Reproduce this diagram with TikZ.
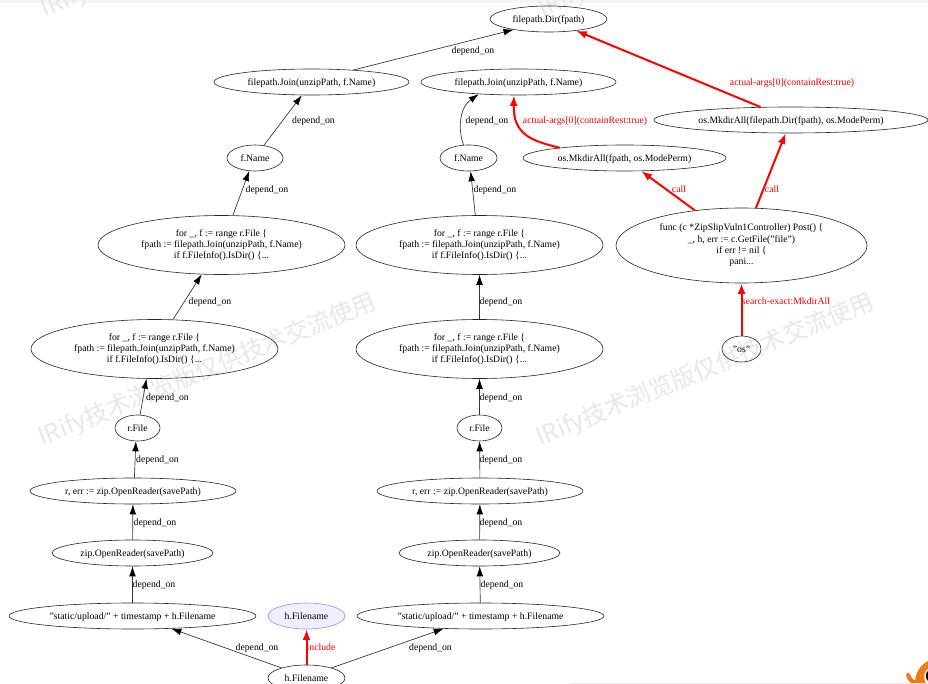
\documentclass[tikz,border=0pt]{standalone}
\usepackage{fontspec}
\setmainfont{Liberation Serif}
\newfontfamily\cjk{Noto Sans CJK SC}
\usepackage{xcolor}
\usepackage{tikz}
\usetikzlibrary{shapes.geometric,arrows.meta}

\definecolor{markgrey}{HTML}{E8E8E8}
\definecolor{hlfill}{HTML}{F0EEFF}
\definecolor{hlline}{HTML}{9A8CFF}
\definecolor{fishorange}{HTML}{F07A13}

\newcommand{\lineup}{\rule[-1.6pt]{0pt}{7.9pt}}

\tikzset{
  gnode/.style={draw=black!85, ellipse, line width=0.45pt, inner sep=0pt, align=center, execute at begin node={\lineup}},
  dep/.style={draw=black!80, line width=0.5pt, -{Latex[length=7.5pt,width=5pt,black]}},
  hit/.style={draw=red, line width=1.5pt, -{Latex[length=8pt,width=6pt]}},
  deplabel/.style={inner sep=0pt, execute at begin node={\lineup}},
  hitlabel/.style={inner sep=0pt, text=red, execute at begin node={\lineup}},
  marktext/.style={text=markgrey, rotate=22.3, inner sep=0pt, font=\cjk\fontsize{18.1}{20}\selectfont}
}

\begin{document}
\begin{tikzpicture}[x=0.75pt,y=-0.75pt,font=\fontsize{7.3}{8.5}\selectfont]
  \clip (0,0) rectangle (928,684);
  \fill[white] (0,0) rectangle (928,684);
  % page edges
  \fill[black!4] (0,0) rectangle (928,3);
  % watermark
  \node[marktext] (markA) at (207.5,370) {IRify技术浏览版仅供技术交流使用};
  \node[marktext] (markB) at (705.5,370) {IRify技术浏览版仅供技术交流使用};
  \node[marktext] (markC) at (210,-59) {IRify技术浏览版仅供技术交流使用};
  \node[marktext] (markD) at (708,-59) {IRify技术浏览版仅供技术交流使用};
  % mascot
  \fill[fishorange] (906,675) .. controls (907,672) and (909,672) .. (910,674)
    .. controls (911,678) and (913,680) .. (916,681) -- (916,684) -- (912,684)
    .. controls (909,682) and (907,679) .. (906,675) -- cycle;
  \fill[fishorange] (915,684) .. controls (915,674) and (919,666) .. (928,661) -- (928,684) -- cycle;
  \fill[white] (928,669) .. controls (924,671) and (923,678) .. (926,684) -- (928,684) -- cycle;
  \fill[black] (928,671) .. controls (925,673) and (925,678) .. (928,681) -- cycle;
  \fill[black!8] (570,682.5) rectangle (928,684);

  % left column
  \node[gnode, minimum width=117pt*0.75, minimum height=26pt*0.75] (dir) at (548.5,19) {filepath.Dir(fpath)};
  \node[gnode, minimum width=195pt*0.75, minimum height=26pt*0.75] (joinA) at (311.5,82) {filepath.Join(unzipPath, f.Name)};
  \node[gnode, minimum width=56pt*0.75, minimum height=26pt*0.75] (nameA) at (255,158) {f.Name};
  \node[gnode, minimum width=247pt*0.75, minimum height=59pt*0.75] (forA) at (221.5,245) {for \_, f := range r.File \{\\fpath := filepath.Join(unzipPath, f.Name)\\if f.FileInfo().IsDir() \{...};
  \node[gnode, minimum width=247pt*0.75, minimum height=59pt*0.75] (forB) at (154.5,349) {for \_, f := range r.File \{\\fpath := filepath.Join(unzipPath, f.Name)\\if f.FileInfo().IsDir() \{...};
  \node[gnode, minimum width=45pt*0.75, minimum height=26pt*0.75] (fileA) at (137.5,428) {r.File};
  \node[gnode, minimum width=206pt*0.75, minimum height=26pt*0.75] (readA) at (133,491) {r, err := zip.OpenReader(savePath)};
  \node[gnode, minimum width=161pt*0.75, minimum height=26pt*0.75] (zipA) at (132.5,553) {zip.OpenReader(savePath)};
  \node[gnode, minimum width=247pt*0.75, minimum height=26pt*0.75] (saveA) at (132.5,616) {"static/upload/" + timestamp + h.Filename};
  \node[gnode, draw=hlline, fill=hlfill, minimum width=77pt*0.75, minimum height=26pt*0.75] (headTop) at (306.5,616) {h.Filename};
  \node[gnode, minimum width=77pt*0.75, minimum height=26pt*0.75] (head) at (306.5,678) {h.Filename};

  % right column
  \node[gnode, minimum width=195pt*0.75, minimum height=26pt*0.75] (joinB) at (518.5,82) {filepath.Join(unzipPath, f.Name)};
  \node[gnode, minimum width=57pt*0.75, minimum height=26pt*0.75] (nameB) at (468.5,158) {f.Name};
  \node[gnode, minimum width=247pt*0.75, minimum height=59pt*0.75] (forC) at (479.5,245) {for \_, f := range r.File \{\\fpath := filepath.Join(unzipPath, f.Name)\\if f.FileInfo().IsDir() \{...};
  \node[gnode, minimum width=247pt*0.75, minimum height=59pt*0.75] (forD) at (479.5,349) {for \_, f := range r.File \{\\fpath := filepath.Join(unzipPath, f.Name)\\if f.FileInfo().IsDir() \{...};
  \node[gnode, minimum width=45pt*0.75, minimum height=26pt*0.75] (fileB) at (479.5,428) {r.File};
  \node[gnode, minimum width=206pt*0.75, minimum height=26pt*0.75] (readB) at (480,491) {r, err := zip.OpenReader(savePath)};
  \node[gnode, minimum width=161pt*0.75, minimum height=26pt*0.75] (zipB) at (479.5,553) {zip.OpenReader(savePath)};
  \node[gnode, minimum width=247pt*0.75, minimum height=26pt*0.75] (saveB) at (480.5,616) {"static/upload/" + timestamp + h.Filename};

  % sink side
  \node[gnode, minimum width=203pt*0.75, minimum height=26pt*0.75] (mkdirA) at (624.5,158) {os.MkdirAll(fpath, os.ModePerm)};
  \node[gnode, minimum width=274pt*0.75, minimum height=26pt*0.75] (mkdirB) at (791,120) {os.MkdirAll(filepath.Dir(fpath), os.ModePerm)};
  \node[gnode, minimum width=251pt*0.75, minimum height=75pt*0.75] (post) at (741.5,245.5) {func (c *ZipSlipVuln1Controller) Post() \{\\\_, h, err := c.GetFile("file")\\if err != nil \{\\pani...};
  \node[gnode, minimum width=39pt*0.75, minimum height=26pt*0.75] (os) at (741.5,349) {"os"};

  % edges
  \draw[dep] (joinA.16) -- (dir.197);
  \draw[dep] (nameA.55) -- (joinA.234);
  \draw[dep] (forA.69) -- (nameA.246);
  \draw[dep] (forB.58) -- (forA.236);
  \draw[dep] (fileA.79) -- (forB.255);
  \draw[dep] (readA.84) -- (fileA.263);
  \draw[dep] (zipA) -- (readA);
  \draw[dep] (saveA) -- (zipA);
  \draw[dep] (head.158) -- (saveA.342);
  \draw[dep] (head.22) -- (saveB.199);
  \draw[dep] (nameB.111) .. controls (458,130) and (459,108) .. (joinB.197);
  \draw[dep] (forC.98) -- (nameB.279);
  \draw[dep] (forD) -- (forC);
  \draw[dep] (fileB) -- (forD);
  \draw[dep] (readB) -- (fileB);
  \draw[dep] (zipB) -- (readB);
  \draw[dep] (saveB) -- (zipB);
  \draw[hit] (head) -- (headTop);
  \draw[hit] (mkdirA.171) .. controls (532,141) and (513,135) .. (joinB.251);
  \draw[hit] (mkdirB.157) -- (dir.337);
  \draw[hit] (post.143) -- (mkdirA.322);
  \draw[hit] (post.69) -- (mkdirB.248);
  \draw[hit] (os) -- (post);

  % edge labels
  \node[deplabel] (depDir) at (473,50.5) {depend\_on};
  \node[deplabel] (depJoinA) at (313.5,120) {depend\_on};
  \node[deplabel] (depNameA) at (267,189) {depend\_on};
  \node[deplabel] (depForA) at (210,301) {depend\_on};
  \node[deplabel] (depForB) at (167.5,397) {depend\_on};
  \node[deplabel] (depFileA) at (157.5,459) {depend\_on};
  \node[deplabel] (depReadA) at (155,522) {depend\_on};
  \node[deplabel] (depZipA) at (154,584) {depend\_on};
  \node[deplabel] (depSaveA) at (257,647) {depend\_on};
  \node[deplabel] (depSaveB) at (430.5,647) {depend\_on};
  \node[deplabel] (depJoinB) at (487,120) {depend\_on};
  \node[deplabel] (depNameB) at (495,189) {depend\_on};
  \node[deplabel] (depForC) at (501,301) {depend\_on};
  \node[deplabel] (depForD) at (501,397) {depend\_on};
  \node[deplabel] (depFileB) at (501,459) {depend\_on};
  \node[deplabel] (depReadB) at (501,522) {depend\_on};
  \node[deplabel] (depZipB) at (502,584) {depend\_on};
  \node[hitlabel] (hitInclude) at (321,647) {include};
  \node[hitlabel] (hitArgA) at (585,120) {actual-args[0](containRest:true)};
  \node[hitlabel] (hitArgB) at (792,82) {actual-args[0](containRest:true)};
  \node[hitlabel] (hitCallA) at (679,189) {call};
  \node[hitlabel] (hitCallB) at (772,189) {call};
  \node[hitlabel] (hitSearch) at (786,301) {search-exact:MkdirAll};
\end{tikzpicture}
\end{document}
